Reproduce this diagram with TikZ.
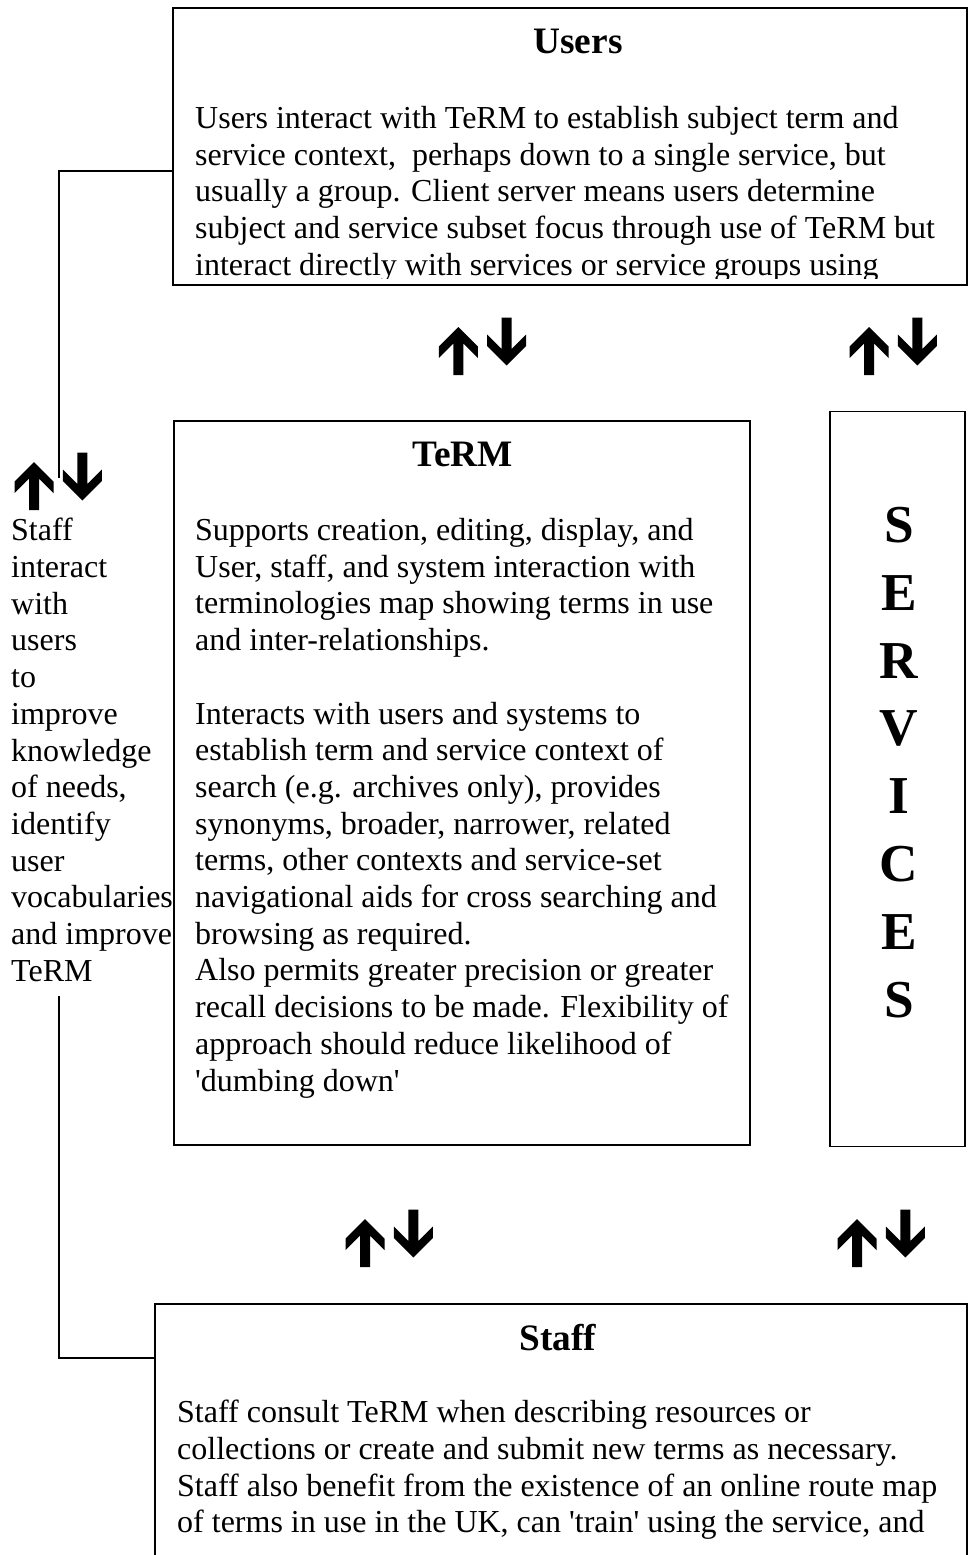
\documentclass[tikz,border=0pt]{standalone}
\usepackage{fontspec}
\setmainfont{Liberation Serif}
\usepackage{tikz}
\usetikzlibrary{positioning}

\tikzset{
  updown/.pic={
    % up arrow, tip at the origin
    \fill (0,0) -- (19.5,19.5) -- (19.5,31) -- (5,16.5) -- (5,48) -- (-5,48) -- (-5,16.5) -- (-19.5,31) -- (-19.5,19.5) -- cycle;
    % down arrow beside it
    \begin{scope}[shift={(48.4,38.5)}]
      \fill (0,0) -- (19.5,-19.5) -- (19.5,-31) -- (5,-16.5) -- (5,-48) -- (-5,-48) -- (-5,-16.5) -- (-19.5,-31) -- (-19.5,-19.5) -- cycle;
    \end{scope}
  }
}

\begin{document}
\begin{tikzpicture}[
    x=1pt,y=-1pt,
    box/.style={draw=black, line width=1.5pt, inner sep=0pt},
    head/.style={font=\fontsize{37.3}{43}\selectfont\bfseries, anchor=base, inner sep=0pt},
    body/.style={font=\fontsize{32}{36.7}\selectfont, align=left, anchor=north west, inner sep=0pt},
    letters/.style={font=\fontsize{53.3}{67.8}\selectfont\bfseries, align=center, anchor=north, inner sep=0pt},
    link/.style={draw=black, line width=1.2pt}
  ]
    \useasboundingbox (0,0) rectangle (968,1555);

    % boxes
    \node[box, minimum width=794pt, minimum height=277pt] (users) at (570,146.5) {};
    \node[box, minimum width=576pt, minimum height=724pt] (term) at (462,783) {};
    \node[box, minimum width=135pt, minimum height=735pt] (services) at (897.5,779) {};
    \node[box, minimum width=812pt, minimum height=316pt] (staff) at (561,1462) {};

    % users
    \node[head] (usershead) at (578,53) {Users};
    \begin{scope}
      \clip (173,8) rectangle (967,278);
      \node[body] (userstext) at (195,106.1) {Users interact with TeRM to establish subject term and\\
        service context,\ \ perhaps down to a single service, but\\
        usually a group. Client server means users determine\\
        subject and service subset focus through use of TeRM but\\
        interact directly with services or service groups using};
    \end{scope}

    % term
    \node[head] (termhead) at (463,466) {TeRM};
    \node[body] (termtext) at (195,518.1) {Supports creation, editing, display, and\\
      User, staff, and system interaction with\\
      terminologies map showing terms in use\\
      and inter-relationships.\\
      \mbox{}\\
      Interacts with users and systems to\\
      establish term and service context of\\
      search (e.g. archives only), provides\\
      synonyms, broader, narrower, related\\
      terms, other contexts and service-set\\
      navigational aids for cross searching and\\
      browsing as required.\\
      Also permits greater precision or greater\\
      recall decisions to be made. Flexibility of\\
      approach should reduce likelihood of\\
      \textquotesingle dumbing down\textquotesingle};

    % services
    \node[letters] (servtext) at (899,507) {S\\E\\R\\V\\I\\C\\E\\S};

    % staff
    \node[head] (staffhead) at (558,1350) {Staff};
    \node[body] (stafftext) at (177,1400.1) {Staff consult TeRM when describing resources or\\
      collections or create and submit new terms as necessary.\\
      Staff also benefit from the existence of an online route map\\
      of terms in use in the UK, can \textquotesingle train\textquotesingle{} using the service, and};

    % staff side note
    \node[body] (note) at (11,518.1) {Staff\\interact\\with\\users\\to\\improve\\knowledge\\of needs,\\identify\\user\\vocabularies\\and improve\\TeRM};

    % two-way arrows
    \pic at (458.3,327) {updown};
    \pic at (869,327) {updown};
    \pic at (34,462) {updown};
    \pic at (365,1219) {updown};
    \pic at (857,1219) {updown};

    % links to the side note
    \coordinate (ubend) at (59,171);
    \coordinate (uend) at (59,478);
    \coordinate (lstart) at (59,996);
    \coordinate (lbend) at (59,1358);
    \draw[link] (users.west |- ubend) -- (ubend) -- (uend);
    \draw[link] (lstart) -- (lbend) -- (staff.west |- lbend);
\end{tikzpicture}
\end{document}
